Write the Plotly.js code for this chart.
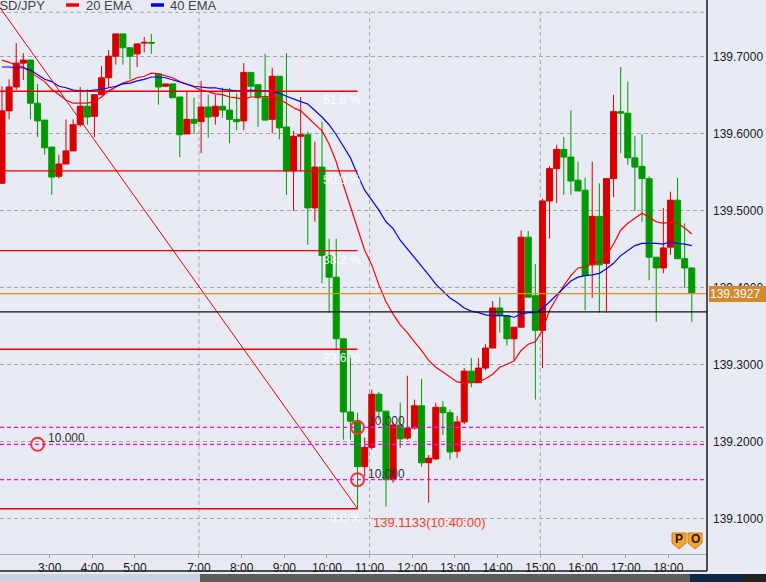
<!DOCTYPE html>
<html><head><meta charset="utf-8">
<script src="https://cdn.plot.ly/plotly-3.0.1.min.js"></script>
<style>html,body{margin:0;padding:0;background:#E8EBF4;overflow:hidden}#chart{width:766px;height:582px}</style>
</head><body><div id="chart"></div>
<script>
// ---- data (10-minute USD/JPY candles) ----
const times = ['01:50','02:00','02:10','02:20','02:30','02:40','02:50','03:00','03:10','03:20',
'03:30','03:40','03:50','04:00','04:10','04:20','04:30','04:40','04:50','05:00',
'05:10','05:20','06:00','06:10','06:20','06:30','06:40','06:50','07:00','07:10',
'07:20','07:30','07:40','07:50','08:00','08:10','08:20','08:30','08:40','08:50',
'09:00','09:10','09:20','09:30','09:40','09:50','10:00','10:10','10:20','10:30',
'10:40','10:50','11:00','11:10','11:20','11:30','11:40','11:50','12:00','12:10',
'12:20','12:30','12:40','12:50','13:00','13:10','13:20','13:30','13:40','13:50',
'14:00','14:10','14:20','14:30','14:40','14:50','15:00','15:10','15:20','15:30',
'15:40','15:50','16:00','16:10','16:20','16:30','16:40','16:50','17:00','17:10',
'17:20','17:30','17:40','17:50','18:00','18:10','18:20','18:30'];
const openP = [139.536,139.630,139.661,139.692,139.696,139.640,139.618,139.583,139.545,139.561,
139.578,139.612,139.636,139.623,139.651,139.673,139.701,139.730,139.712,139.704,
139.718,139.719,139.678,139.662,139.665,139.648,139.600,139.619,139.616,139.635,
139.623,139.636,139.631,139.619,139.617,139.680,139.664,139.647,139.619,139.675,
139.609,139.552,139.597,139.599,139.504,139.557,139.442,139.414,139.334,139.239,
139.227,139.168,139.193,139.262,139.240,139.151,139.222,139.205,139.218,139.247,
139.173,139.178,139.245,139.238,139.188,139.226,139.292,139.277,139.296,139.322,
139.374,139.364,139.334,139.349,139.466,139.390,139.345,139.513,139.555,139.580,
139.570,139.540,139.527,139.430,139.493,139.432,139.542,139.629,139.627,139.569,
139.558,139.542,139.440,139.426,139.453,139.514,139.438,139.426];
const highP = [139.662,139.671,139.718,139.705,139.696,139.665,139.618,139.583,139.573,139.619,
139.619,139.661,139.658,139.651,139.688,139.709,139.730,139.730,139.712,139.717,
139.726,139.730,139.678,139.665,139.665,139.648,139.655,139.647,139.669,139.651,
139.651,139.660,139.660,139.653,139.692,139.680,139.664,139.704,139.686,139.675,
139.705,139.604,139.648,139.603,139.590,139.616,139.464,139.464,139.334,139.313,
139.238,139.206,139.268,139.265,139.240,139.226,139.251,139.286,139.255,139.282,
139.183,139.251,139.253,139.242,139.234,139.296,139.309,139.309,139.327,139.383,
139.388,139.364,139.349,139.475,139.474,139.431,139.516,139.558,139.586,139.596,
139.631,139.564,139.543,139.564,139.536,139.542,139.651,139.687,139.668,139.597,
139.600,139.545,139.440,139.504,139.525,139.543,139.484,139.426];
const lowP = [139.535,139.619,139.657,139.670,139.619,139.596,139.573,139.521,139.542,139.561,
139.578,139.609,139.612,139.596,139.651,139.661,139.690,139.690,139.671,139.687,
139.706,139.704,139.638,139.662,139.647,139.570,139.600,139.600,139.575,139.595,
139.612,139.621,139.588,139.605,139.605,139.648,139.609,139.618,139.601,139.593,
139.521,139.500,139.551,139.456,139.486,139.406,139.368,139.319,139.203,139.203,
139.1133,139.155,139.190,139.229,139.116,139.147,139.192,139.203,139.216,139.168,
139.121,139.177,139.209,139.177,139.179,139.223,139.271,139.277,139.293,139.322,
139.342,139.325,139.306,139.349,139.388,139.255,139.296,139.464,139.510,139.521,
139.521,139.526,139.371,139.387,139.368,139.368,139.518,139.575,139.560,139.500,
139.486,139.410,139.356,139.419,139.443,139.438,139.400,139.356];
const closeP = [139.630,139.661,139.692,139.696,139.640,139.617,139.582,139.544,139.561,139.578,
139.612,139.636,139.622,139.651,139.673,139.701,139.730,139.712,139.701,139.717,
139.719,139.718,139.661,139.665,139.647,139.599,139.619,139.614,139.635,139.622,
139.636,139.631,139.619,139.616,139.680,139.662,139.647,139.618,139.675,139.608,
139.552,139.597,139.599,139.504,139.557,139.442,139.414,139.334,139.239,139.227,
139.168,139.193,139.262,139.240,139.151,139.222,139.204,139.218,139.247,139.173,
139.179,139.245,139.238,139.187,139.226,139.292,139.277,139.296,139.322,139.374,
139.364,139.334,139.349,139.466,139.388,139.345,139.513,139.555,139.580,139.570,
139.539,139.526,139.416,139.493,139.430,139.542,139.629,139.627,139.569,139.557,
139.542,139.440,139.426,139.452,139.514,139.438,139.426,139.3927];
const ema20 = [139.696,139.693,139.691,139.687,139.680,139.674,139.668,139.658,139.651,139.644,
139.640,139.640,139.640,139.642,139.648,139.656,139.661,139.666,139.669,139.673,
139.675,139.679,139.678,139.675,139.673,139.668,139.665,139.661,139.657,139.655,
139.652,139.651,139.648,139.647,139.645,139.648,139.648,139.649,139.648,139.645,
139.640,139.634,139.630,139.621,139.613,139.604,139.587,139.564,139.534,139.505,
139.478,139.449,139.430,139.404,139.382,139.366,139.352,139.342,139.330,139.319,
139.306,139.297,139.291,139.284,139.278,139.277,139.277,139.278,139.282,139.288,
139.297,139.301,139.305,139.319,139.327,139.330,139.345,139.371,139.388,139.403,
139.416,139.426,139.427,139.432,139.434,139.442,139.457,139.475,139.484,139.491,
139.497,139.492,139.486,139.484,139.486,139.484,139.478,139.470];
const ema40 = [139.687,139.687,139.686,139.686,139.683,139.677,139.671,139.668,139.662,139.660,
139.657,139.656,139.656,139.657,139.658,139.660,139.662,139.665,139.666,139.669,
139.671,139.674,139.674,139.673,139.670,139.668,139.665,139.662,139.661,139.660,
139.660,139.658,139.657,139.656,139.656,139.657,139.656,139.656,139.655,139.653,
139.649,139.645,139.642,139.639,139.631,139.622,139.612,139.599,139.584,139.569,
139.547,139.527,139.514,139.501,139.486,139.477,139.462,139.451,139.439,139.429,
139.417,139.405,139.396,139.387,139.381,139.374,139.370,139.368,139.365,139.364,
139.364,139.364,139.362,139.366,139.368,139.368,139.373,139.382,139.391,139.400,
139.409,139.414,139.416,139.417,139.419,139.425,139.432,139.442,139.449,139.455,
139.458,139.458,139.458,139.457,139.460,139.458,139.457,139.455];
const yTickVals = [139.1,139.2,139.3,139.4,139.5,139.6,139.7];
const yTickText = ['139.1000','139.2000','139.3000','139.4000','139.5000','139.6000','139.7000'];
const xTickTimes = ['03:00','04:00','05:00','07:00','08:00','09:00','10:00','11:00','12:00','13:00','14:00','15:00','16:00','17:00','18:00'];
const xTickText = ['3:00','4:00','5:00','7:00','8:00','9:00','10:00','11:00','12:00','13:00','14:00','15:00','16:00','17:00','18:00'];
const gridTimes = ['07:00','11:00','15:00'];
const fibNames = ['0.0 %','23.6 %','38.2 %','50.0 %','61.8 %'];
const fibPrices = [139.1133,139.3204,139.4485,139.5520,139.6555];
const fibHighPrice = 139.9907;
const fibHighBar = -17.8;          // bar position of the swing high (off chart)
const fibLowTime = '10:40';
const fibLowPrice = 139.1133;
const fibLowLabel = '139.1133(10:40:00)';
const alertTimes = ['02:40','10:40','10:40'];
const alertPrices = [139.197,139.219,139.151];
const alertLabels = ['10.000','10.000','10.000'];
const lastPrice = 139.3927;
const refPrice = 139.369;
const frameTopPrice = 139.758;
const legendItems = ['USD/JPY','20 EMA','40 EMA'];
const badges = ['P','O'];

// ---- chart ----
const FONT = 'Liberation Sans, Arial, sans-serif';
const xIdx = times.map((_, i) => i);
const idxOf = t => times.indexOf(t);
const TSHIFT = -0.3;
const YR = [139.0545, 139.774];
const XR = [-0.28, 99.14];
const lowIdx = idxOf(fibLowTime);

const traces = [
  {type:'candlestick', x:xIdx, open:openP, high:highP, low:lowP, close:closeP,
   increasing:{line:{color:'#D80000',width:1}, fillcolor:'#D80000'},
   decreasing:{line:{color:'#009A00',width:1}, fillcolor:'#009A00'},
   whiskerwidth:0, hoverinfo:'skip', showlegend:false},
  {type:'scatter', mode:'lines', x:xIdx, y:ema20, line:{color:'#FF0000', width:1.2}, hoverinfo:'skip', showlegend:false},
  {type:'scatter', mode:'lines', x:xIdx, y:ema40, line:{color:'#0000FF', width:1.2}, hoverinfo:'skip', showlegend:false},
  {type:'scatter', mode:'markers', x:alertTimes.map(idxOf), y:alertPrices,
   marker:{symbol:'circle-open', size:13, color:'#F53535', line:{width:2, color:'#F53535'}},
   hoverinfo:'skip', showlegend:false}
];

const shapes = [];
shapes.push({type:'line', xref:'x', yref:'y', x0:XR[0], x1:XR[1], y0:frameTopPrice, y1:frameTopPrice,
  line:{color:'#A6A6A6', width:1, dash:'4px,3px'}, layer:'below'});
gridTimes.forEach(t => {
  const xi = idxOf(t) + TSHIFT;
  shapes.push({type:'line', xref:'x', yref:'y', x0:xi, x1:xi, y0:YR[0], y1:frameTopPrice,
    line:{color:'#A6A6A6', width:1, dash:'4px,3px'}, layer:'below'});
});
fibPrices.forEach(p => {
  shapes.push({type:'line', xref:'x', yref:'y', x0:XR[0], x1:lowIdx, y0:p, y1:p,
    line:{color:'#F00000', width:1.3}, layer:'above'});
});
shapes.push({type:'line', xref:'x', yref:'y', x0:fibHighBar, x1:lowIdx, y0:fibHighPrice, y1:fibLowPrice,
  line:{color:'#F00000', width:1}, layer:'above'});
alertPrices.forEach(p => {
  shapes.push({type:'line', xref:'x', yref:'y', x0:XR[0], x1:XR[1], y0:p, y1:p,
    line:{color:'#FF00FF', width:1.3, dash:'4px,3px'}, layer:'above'});
});
shapes.push({type:'line', xref:'x', yref:'y', x0:XR[0], x1:XR[1], y0:lastPrice, y1:lastPrice,
  line:{color:'#E0901E', width:1.4}, layer:'above'});
shapes.push({type:'line', xref:'x', yref:'y', x0:XR[0], x1:XR[1], y0:refPrice, y1:refPrice,
  line:{color:'#111111', width:1.2}, layer:'above'});
const PH = 554, PW = 707;
shapes.push({type:'line', xref:'paper', yref:'paper', x0:1, x1:1, y0:-17/PH, y1:1.01, line:{color:'#1a1a1a', width:1.5}});
shapes.push({type:'line', xref:'paper', yref:'paper', x0:0, x1:1, y0:-17/PH, y1:-17/PH, line:{color:'#1a1a1a', width:1.5}});
shapes.push({type:'rect', xref:'paper', yref:'paper', x0:-0.01, x1:766/PW, y0:-30/PH, y1:-20/PH, line:{width:0}, fillcolor:'#C9D2DE'});
shapes.push({type:'rect', xref:'paper', yref:'paper', x0:200/PW, x1:690/PW, y0:-30/PH, y1:-20/PH, line:{width:0}, fillcolor:'#5C5C5C'});
shapes.push({type:'rect', xref:'paper', yref:'paper', x0:690/PW, x1:742/PW, y0:-30/PH, y1:-20/PH, line:{width:0}, fillcolor:'#0C2747'});
shapes.push({type:'rect', xref:'paper', yref:'paper', x0:742/PW, x1:766/PW, y0:-30/PH, y1:-20/PH, line:{width:0}, fillcolor:'#222222'});
shapes.push({type:'line', xref:'paper', yref:'paper', x0:66/PW, x1:79/PW, y0:1-5/PH, y1:1-5/PH, line:{color:'#FF0000', width:3.5}});
shapes.push({type:'line', xref:'paper', yref:'paper', x0:151/PW, x1:164/PW, y0:1-5/PH, y1:1-5/PH, line:{color:'#0000FF', width:3.5}});
// badge shields (pointed bottoms)
[[672,686],[688,702]].forEach(([a, b]) => {
  const m = (a + b) / 2;
  shapes.push({type:'path', xref:'paper', yref:'paper',
    path:`M ${a/PW} ${1-533/PH} L ${b/PW} ${1-533/PH} L ${b/PW} ${1-543/PH} L ${m/PW} ${1-549/PH} L ${a/PW} ${1-543/PH} Z`,
    fillcolor:'#F7A531', line:{color:'#D07A10', width:1}});
});

const annotations = [];
annotations.push({xref:'paper', yref:'paper', x:0, y:1, xanchor:'left', yanchor:'middle', xshift:-12, yshift:-5,
  text:legendItems[0], showarrow:false, font:{family:FONT, size:13, color:'#444'}});
annotations.push({xref:'paper', yref:'paper', x:84/PW, y:1, xanchor:'left', yanchor:'middle', yshift:-5,
  text:legendItems[1], showarrow:false, font:{family:FONT, size:13, color:'#444'}});
annotations.push({xref:'paper', yref:'paper', x:168/PW, y:1, xanchor:'left', yanchor:'middle', yshift:-5,
  text:legendItems[2], showarrow:false, font:{family:FONT, size:13, color:'#444'}});
fibPrices.forEach((p, k) => {
  annotations.push({xref:'x', yref:'y', x:lowIdx + 0.75, y:p, xanchor:'right', yanchor:'top',
    text:fibNames[k], showarrow:false, font:{family:FONT, size:12, color:'rgba(255,255,255,0.95)'}});
});
annotations.push({xref:'x', yref:'y', x:lowIdx, y:fibLowPrice, xanchor:'left', yanchor:'middle', xshift:13, yshift:-14,
  text:fibLowLabel, showarrow:false, font:{family:FONT, size:13, color:'#FF3B1E'}});
alertTimes.forEach((t, k) => {
  annotations.push({xref:'x', yref:'y', x:idxOf(t), y:alertPrices[k], xanchor:'left', yanchor:'middle', xshift:8, yshift:6,
    text:alertLabels[k], showarrow:false, font:{family:FONT, size:12, color:'#333'}});
});
annotations.push({xref:'paper', yref:'y', x:1, y:lastPrice, xanchor:'left', yanchor:'middle', xshift:2,
  text:lastPrice.toFixed(4), showarrow:false, bgcolor:'#D4892A', borderpad:1, borderwidth:0, width:56, align:'left',
  font:{family:FONT, size:12, color:'#FFFFFF'}});
[679, 695].forEach((px, k) => {
  annotations.push({xref:'paper', yref:'paper', x:px/PW, y:1-539/PH, xanchor:'center', yanchor:'middle',
    text:'<b>'+badges[k]+'</b>', showarrow:false,
    font:{family:FONT, size:12, color:'#2A1600'}});
});

const layout = {
  width:766, height:582,
  margin:{l:0, r:59, t:0, b:28, pad:0},
  paper_bgcolor:'#E8EBF4', plot_bgcolor:'#E8EBF4',
  font:{family:FONT, size:12, color:'#1a1a1a'},
  showlegend:false, hovermode:false,
  boxgap:0.1, boxgroupgap:0.06,
  xaxis:{type:'linear', range:XR, fixedrange:true, showgrid:false, zeroline:false,
    rangeslider:{visible:false},
    tickvals:xTickTimes.map(t => idxOf(t) + TSHIFT), ticktext:xTickText,
    ticks:'outside', ticklen:3, tickcolor:'#A0A0A0', tickwidth:1,
    tickfont:{family:FONT, size:12, color:'#1a1a1a'},
    showline:true, linecolor:'#A8A8A8', linewidth:1},
  yaxis:{type:'linear', side:'right', range:YR, fixedrange:true, zeroline:false,
    tickvals:yTickVals, ticktext:yTickText, ticks:'', ticklabelstandoff:5,
    tickfont:{family:FONT, size:12, color:'#1a1a1a'},
    showgrid:true, gridcolor:'#A6A6A6', gridwidth:1, griddash:'4px,3px', showline:false},
  shapes:shapes, annotations:annotations
};

Plotly.newPlot('chart', traces, layout, {staticPlot:true, displayModeBar:false});
</script>
</body></html>
